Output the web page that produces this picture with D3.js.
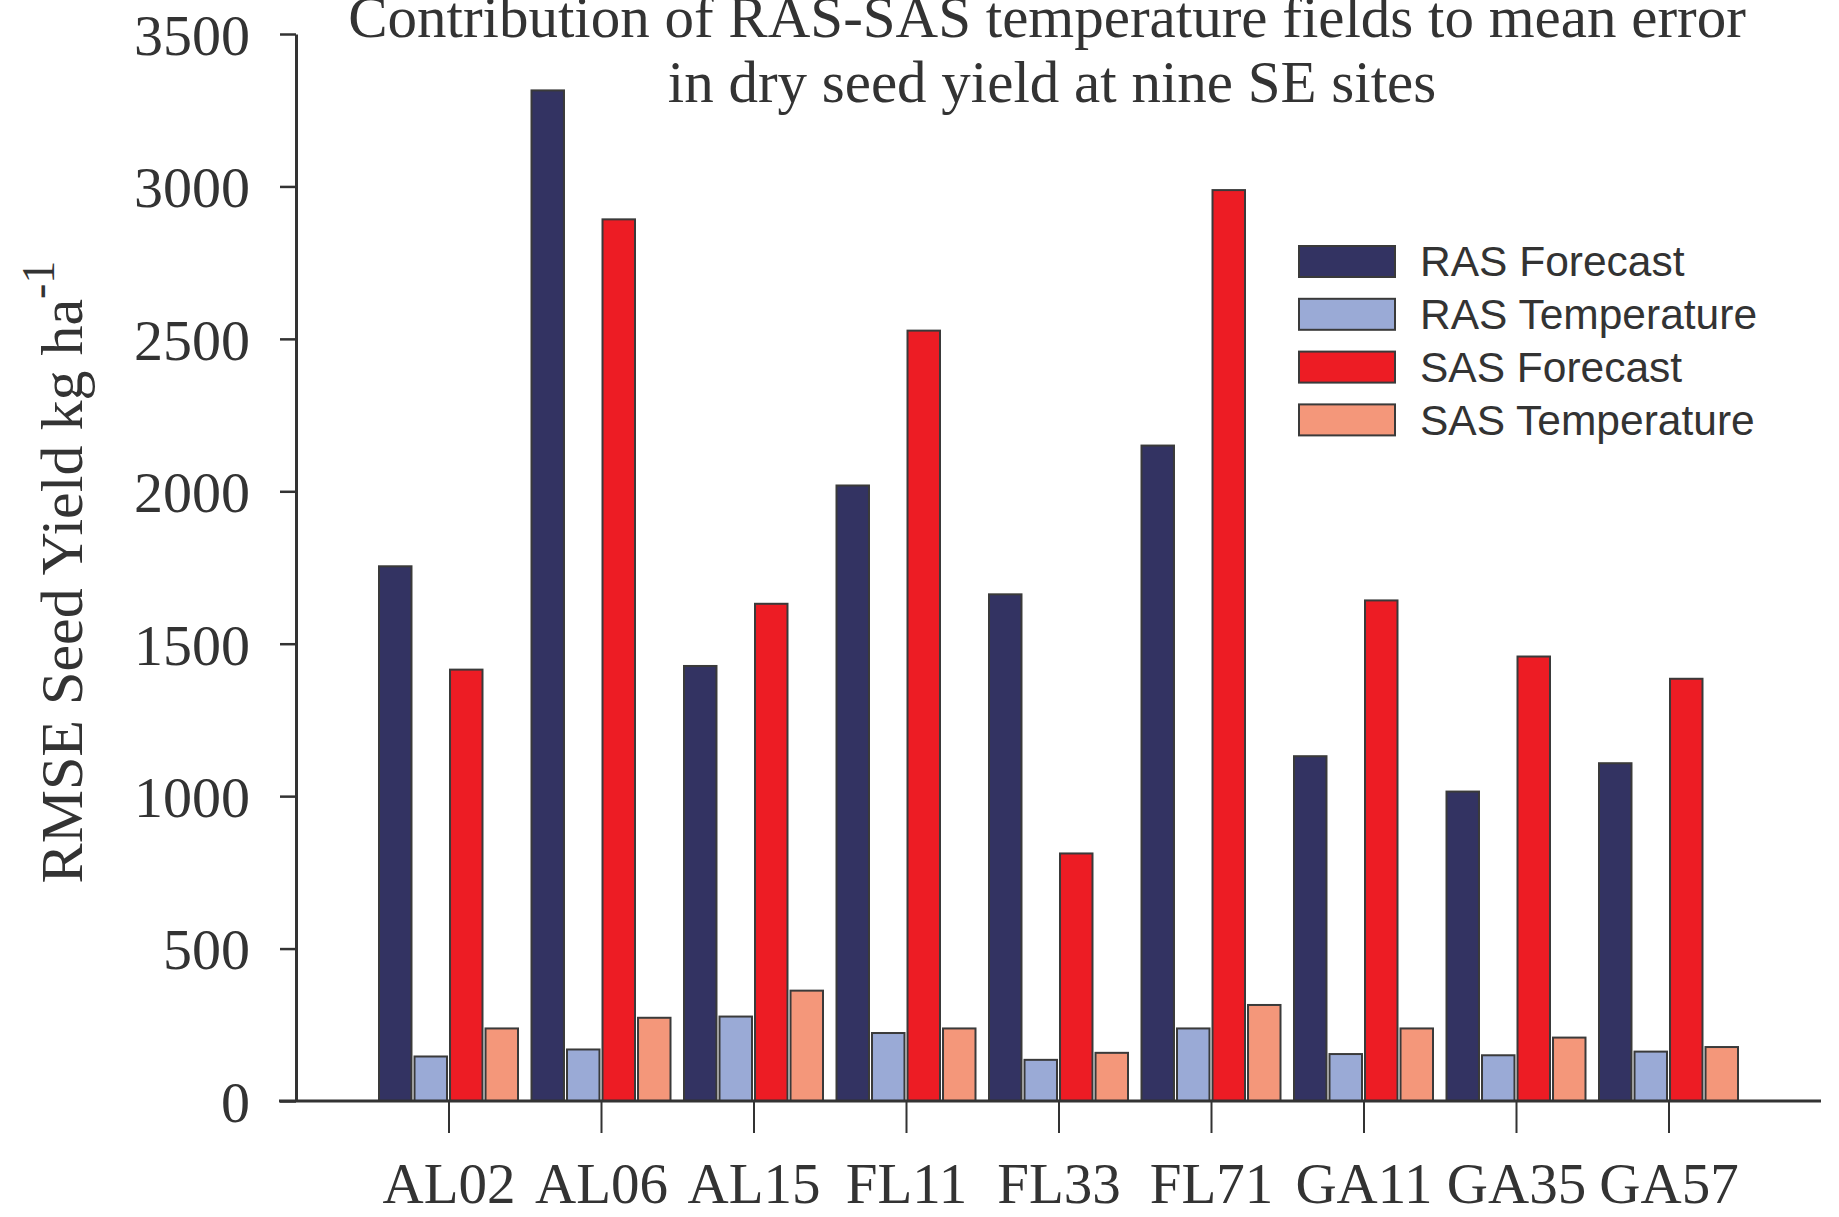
<!DOCTYPE html>
<html>
<head>
<meta charset="utf-8">
<script src="https://cdn.jsdelivr.net/npm/d3@7"></script>
<style>
  body { margin: 0; background: #fff; }
  svg text { fill: #333; }
</style>
</head>
<body>
<svg id="chart" width="1839" height="1217"></svg>
<script>
var sites = ["AL02", "AL06", "AL15", "FL11", "FL33", "FL71", "GA11", "GA35", "GA57"];
var seriesNames = ["RAS Forecast", "RAS Temperature", "SAS Forecast", "SAS Temperature"];
var rasForecast = [1754, 3315, 1427, 2019, 1662, 2150, 1131, 1015, 1108];
var rasTemperature = [146, 169, 277, 223, 135, 238, 154, 150, 162];
var sasForecast = [1415, 2892, 1631, 2527, 812, 2988, 1642, 1458, 1385];
var sasTemperature = [238, 273, 362, 238, 158, 315, 238, 208, 177];
var yTicks = [0, 500, 1000, 1500, 2000, 2500, 3000, 3500];

var svg = d3.select("#chart"),
    margin = {top: 34, right: 18, bottom: 116, left: 296},
    width = +svg.attr("width") - margin.left - margin.right,
    height = +svg.attr("height") - margin.top - margin.bottom,
    g = svg.append("g").attr("transform", "translate(" + margin.left + "," + margin.top + ")");

var color = d3.scaleOrdinal()
  .domain(seriesNames)
  .range(["#333362", "#9aaad6", "#ed1c24", "#f4977a"]);

// one empty slot each side of the sites, like the original
var x0 = d3.scalePoint().domain(sites).range([0, width]).padding(1);
var x1 = d3.scaleBand().domain(seriesNames)
  .range([-69.5, 69.5]).paddingInner(0.085);
var y = d3.scaleLinear().domain([0, 3500]).range([height, 0]);

var rows = sites.map(function(s, i) {
  return {site: s, values: [
    {key: seriesNames[0], val: rasForecast[i]},
    {key: seriesNames[1], val: rasTemperature[i]},
    {key: seriesNames[2], val: sasForecast[i]},
    {key: seriesNames[3], val: sasTemperature[i]}
  ]};
});

var serif = "'Liberation Serif', 'DejaVu Serif', serif";
var sans = "'Liberation Sans', Arial, sans-serif";

// bars
var group = g.selectAll(".site")
    .data(rows)
  .enter().append("g")
    .attr("class", "site")
    .attr("transform", function(d) { return "translate(" + x0(d.site) + ",0)"; });

group.selectAll("rect")
    .data(function(d) { return d.values; })
  .enter().append("rect")
    .attr("x", function(d) { return x1(d.key); })
    .attr("width", x1.bandwidth())
    .attr("y", function(d) { return y(d.val); })
    .attr("height", function(d) { return height - y(d.val); })
    .style("fill", function(d) { return color(d.key); })
    .style("stroke", "#3a3a3a")
    .style("stroke-width", 2);

// y axis
var yAxis = g.append("g")
    .attr("class", "axis axis--y")
    .call(d3.axisLeft(y).tickValues(yTicks).tickFormat(d3.format("d"))
      .tickSize(16).tickPadding(30).tickSizeOuter(0));
yAxis.select(".domain").style("stroke", "#333").style("stroke-width", 3);
yAxis.selectAll(".tick line").style("stroke", "#333").style("stroke-width", 2.5);
yAxis.selectAll(".tick text")
    .style("font-family", serif).style("font-size", "58px").style("fill", "#333")
    .attr("dy", "0.35em");

// x axis
var xAxis = g.append("g")
    .attr("class", "axis axis--x")
    .attr("transform", "translate(0," + height + ")")
    .call(d3.axisBottom(x0).tickSize(32).tickPadding(30).tickSizeOuter(0));
xAxis.select(".domain").attr("d", "M-17,0H" + width).style("stroke", "#333").style("stroke-width", 3);
xAxis.selectAll(".tick line").style("stroke", "#333").style("stroke-width", 2);
xAxis.selectAll(".tick text")
    .style("font-family", serif).style("font-size", "57px").style("fill", "#333");

// y label
var yl = svg.append("text")
    .attr("transform", "translate(82," + 572 + ") rotate(-90)")
    .attr("text-anchor", "middle")
    .style("font-family", serif).style("font-size", "60px");
yl.append("tspan").text("RMSE Seed Yield kg ha");
yl.append("tspan").attr("dy", "-0.6em").style("font-size", "46px").text("-1");

// title
var title = svg.append("text")
    .attr("text-anchor", "middle")
    .style("font-family", serif).style("font-size", "59px");
title.append("tspan").attr("x", 1047).attr("y", 37).text("Contribution of RAS-SAS temperature fields to mean error");
title.append("tspan").attr("x", 1052).attr("y", 102).text("in dry seed yield at nine SE sites");

// legend
var legend = svg.append("g").attr("transform", "translate(1299,246)");
var item = legend.selectAll(".item")
    .data(seriesNames)
  .enter().append("g")
    .attr("class", "item")
    .attr("transform", function(d, i) { return "translate(0," + i * 52.8 + ")"; });
item.append("rect")
    .attr("width", 96).attr("height", 31)
    .style("fill", function(d) { return color(d); })
    .style("stroke", "#3a3a3a").style("stroke-width", 2);
item.append("text")
    .attr("x", 121).attr("y", 15.5).attr("dy", "0.35em")
    .style("font-family", sans).style("font-size", "42.5px")
    .text(function(d) { return d; });
</script>
</body>
</html>
